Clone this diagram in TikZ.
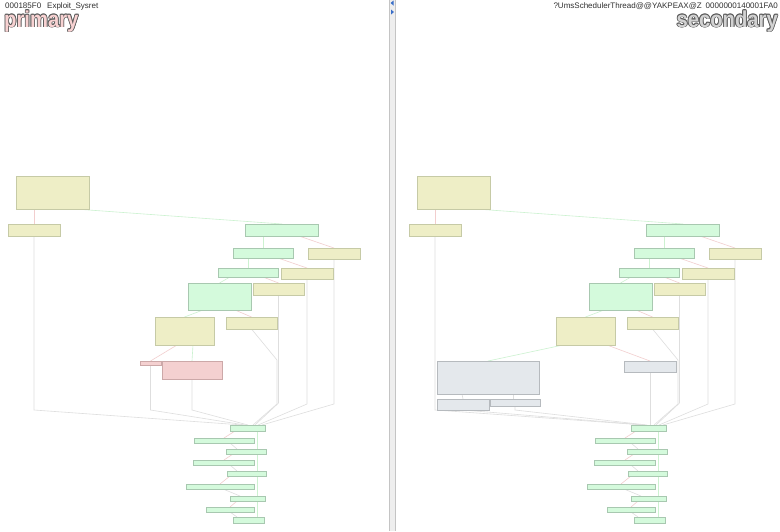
\documentclass[tikz,border=0pt]{standalone}
\usepackage{fontspec}
\setmainfont{Liberation Sans}
\usetikzlibrary{calc}
\pgfdeclarelayer{bg}
\pgfsetlayers{bg,main}
\definecolor{yfill}{HTML}{EEEEC6}
\definecolor{ydraw}{HTML}{C6CAA6}
\definecolor{gfill}{HTML}{D4FADC}
\definecolor{gdraw}{HTML}{A8C8B0}
\definecolor{pfill}{HTML}{F4D0D0}
\definecolor{pdraw}{HTML}{CCA8A8}
\definecolor{qfill}{HTML}{E4E8EC}
\definecolor{qdraw}{HTML}{B6BABE}
\definecolor{egray}{HTML}{DEDEDE}
\definecolor{egreen}{HTML}{CCF2D0}
\definecolor{epink}{HTML}{F2CECE}
\definecolor{hdrtxt}{HTML}{303030}
\definecolor{outl}{HTML}{5A5A5A}
\definecolor{pinktxt}{HTML}{F8D2D2}
\definecolor{graytxt}{HTML}{D2D2D2}
\definecolor{divfill}{HTML}{EEEEEE}
\definecolor{divline}{HTML}{C4C4C4}
\definecolor{divblue}{HTML}{3A6EC8}
\tikzset{
  blk/.style={draw, line width=0.9pt, inner sep=0pt, outer sep=0pt, anchor=north west},
  yb/.style={blk, fill=yfill, draw=ydraw},
  gb/.style={blk, fill=gfill, draw=gdraw},
  pb/.style={blk, fill=pfill, draw=pdraw},
  qb/.style={blk, fill=qfill, draw=qdraw},
  eg/.style={draw=egray, line width=0.6pt},
  egr/.style={draw=egreen, line width=0.6pt},
  epk/.style={draw=epink, line width=0.6pt},
  hdr/.style={font=\fontsize{8}{8}\selectfont, text=hdrtxt, inner sep=0pt},
  bigtxt/.style={font=\fontsize{23}{23}\selectfont\bfseries, inner sep=0pt}
}
\newcommand\bx[6]{\node[#2, minimum width={#5-#3}, minimum height={#6-#4}] (#1) at (#3,#4) {};}
\newcommand\outltext[6]{%
  \foreach \dx/\dy [count=\k] in {-0.8/0,0.8/0,0/-0.8,0/0.8,-0.6/-0.6,0.6/-0.6,-0.6/0.6,0.6/0.6}{
    \node[bigtxt, text=outl, anchor=#4] (#1o\k) at ([shift={(\dx,\dy)}]#2,#3) {\scalebox{0.88}[1]{#6}};}
  \node[bigtxt, text=#5, anchor=#4] (#1) at (#2,#3) {\scalebox{0.88}[1]{#6}};
}
\newcommand\commonpart[1]{%
  \bx{#1y1}{yb}{16}{176}{89}{209}
  \bx{#1y2}{yb}{8}{224}{60}{236}
  \bx{#1g1}{gb}{245}{224}{318}{236}
  \bx{#1g2}{gb}{233}{248}{293}{258}
  \bx{#1y3}{yb}{308}{248}{360}{259}
  \bx{#1g3}{gb}{218}{268}{278}{277}
  \bx{#1y4}{yb}{281}{268}{333}{279}
  \bx{#1g4}{gb}{188}{283}{251}{310}
  \bx{#1y5}{yb}{253}{283}{304}{295}
  \bx{#1y6}{yb}{155}{317}{214}{345}
  \bx{#1y7}{yb}{226}{317}{277}{329}
  \bx{#1b1}{gb}{230}{425}{265}{431}
  \bx{#1b2}{gb}{194}{438}{254}{443}
  \bx{#1b3}{gb}{226}{449}{266}{454}
  \bx{#1b4}{gb}{193}{460}{254}{465}
  \bx{#1b5}{gb}{227}{471}{266}{476}
  \bx{#1b6}{gb}{186}{484}{254}{489}
  \bx{#1b7}{gb}{230}{496}{265}{501}
  \bx{#1b8}{gb}{206}{507}{254}{512}
  \bx{#1b9}{gb}{233}{517}{264}{523}
  \begin{pgfonlayer}{bg}
    \draw[epk] ([xshift=18pt]#1y1.south west) -- (#1y2.north);
    \draw[egr] ([xshift=59pt]#1y1.south west) -- ([xshift=37pt]#1g1.north west);
    \draw[egr] ([xshift=18pt]#1g1.south west) -- (#1g2.north);
    \draw[epk] ([xshift=54pt]#1g1.south west) -- (#1y3.north);
    \draw[egr] ([xshift=15pt]#1g2.south west) -- (#1g3.north);
    \draw[epk] ([xshift=45pt]#1g2.south west) -- (#1y4.north);
    \draw[egr] ([xshift=12pt]#1g3.south west) -- (#1g4.north);
    \draw[epk] ([xshift=45pt]#1g3.south west) -- (#1y5.north);
    \draw[egr] ([xshift=15pt]#1g4.south west) -- (#1y6.north);
    \draw[epk] ([xshift=47pt]#1g4.south west) -- (#1y7.north);
    \draw[eg] (#1y2.south) -- ++(0,174) -- ([xshift=13pt]#1b1.north west);
    \draw[eg] (#1y3.south) -- ++(0,145) -- ([xshift=32pt]#1b1.north west);
    \draw[eg] (#1y4.south) -- ++(0,125) -- ([xshift=28pt]#1b1.north west);
    \draw[eg] (#1y5.south) -- ++(0,108) -- ([xshift=25pt]#1b1.north west);
    \draw[eg] (#1y7.south) -- ++(25.5,31) -- ++(0,44) -- ([xshift=23pt]#1b1.north west);
    \draw[egr] ([xshift=27pt]#1b1.south west) -- ([xshift=24pt]#1b9.north west);
    \draw[epk] ([xshift=5pt]#1b1.south west) -- ([xshift=30pt]#1b2.north west);
    \draw[eg] ([xshift=36pt]#1b2.south west) -- ([xshift=11pt]#1b3.north west);
    \draw[epk] ([xshift=7pt]#1b3.south west) -- ([xshift=31pt]#1b4.north west);
    \draw[eg] ([xshift=37pt]#1b4.south west) -- ([xshift=10pt]#1b5.north west);
    \draw[epk] ([xshift=3pt]#1b5.south west) -- ([xshift=34pt]#1b6.north west);
    \draw[eg] ([xshift=37pt]#1b6.south west) -- ([xshift=10pt]#1b7.north west);
    \draw[epk] ([xshift=7pt]#1b7.south west) -- ([xshift=24pt]#1b8.north west);
    \draw[eg] ([xshift=24pt]#1b8.south west) -- ([xshift=4pt]#1b9.north west);
  \end{pgfonlayer}
}
\begin{document}
\begin{tikzpicture}[x=1pt,y=-1pt]
\useasboundingbox (0,0) rectangle (780,531);
\begin{pgfonlayer}{bg}
\fill[white] (0,0) rectangle (780,531);
\end{pgfonlayer}
% divider
\fill[divfill] (389,0) rectangle (396,531);
\draw[divline, line width=0.6pt] (389.5,0) -- (389.5,531);
\draw[divline, line width=0.6pt] (395.5,0) -- (395.5,531);
\fill[divblue] (393.5,0.5) -- (390.5,3) -- (393.5,5.5) -- cycle;
\fill[divblue] (391,9.5) -- (394,12) -- (391,14.5) -- cycle;
% headers
\node[hdr, anchor=base west] (hl1) at (5,8.3) {000185F0};
\node[hdr, anchor=base west] (hl2) at (47,8.3) {Exploit\_Sysret};
\node[hdr, anchor=base east] (hr2) at (778,8.3) {0000000140001FA0};
\node[hdr, anchor=base east] (hr1) at (702,8.3) {?UmsSchedulerThread@@YAKPEAX@Z};
\outltext{tprim}{4}{27}{base west}{pinktxt}{primary}
\outltext{tsec}{778}{27}{base east}{graytxt}{secondary}
% primary
\commonpart{P}
\bx{Pp1}{pb}{140}{361}{161}{365}
\bx{Pp2}{pb}{162}{361}{222}{379}
\begin{pgfonlayer}{bg}
  \draw[epk] ([xshift=22pt]Py6.south west) -- (Pp1.north);
  \draw[egr] ([xshift=38pt]Py6.south west) -- (Pp2.north);
  \draw[eg] (Pp1.south) -- ++(0,45) -- ([xshift=15pt]Pb1.north west);
  \draw[eg] (Pp2.south) -- ++(0,31) -- ([xshift=18pt]Pb1.north west);
\end{pgfonlayer}
% secondary
\begin{scope}[xshift=401pt]
\commonpart{S}
\bx{Sq1}{qb}{36}{361}{138}{394}
\bx{Sq2}{qb}{223}{361}{275}{372}
\bx{Sq3}{qb}{36}{399}{88}{410}
\bx{Sq4}{qb}{89}{399}{139}{406}
\begin{pgfonlayer}{bg}
  \draw[egr] ([xshift=7pt]Sy6.south west) -- (Sq1.north);
  \draw[epk] ([xshift=51pt]Sy6.south west) -- (Sq2.north);
  \draw[eg] (Sq2.south) -- (Sq2.south |- Sb1.north);
  \draw[eg] ([xshift=25pt]Sq1.south west) -- (Sq3.north);
  \draw[eg] ([xshift=76pt]Sq1.south west) -- ([xshift=23pt]Sq4.north west);
  \draw[eg] (Sq3.south) -- ([xshift=14pt]Sb1.north west);
  \draw[eg] (Sq4.south) -- ++(0,4) -- ([xshift=16pt]Sb1.north west);
\end{pgfonlayer}
\end{scope}
\end{tikzpicture}
\end{document}
